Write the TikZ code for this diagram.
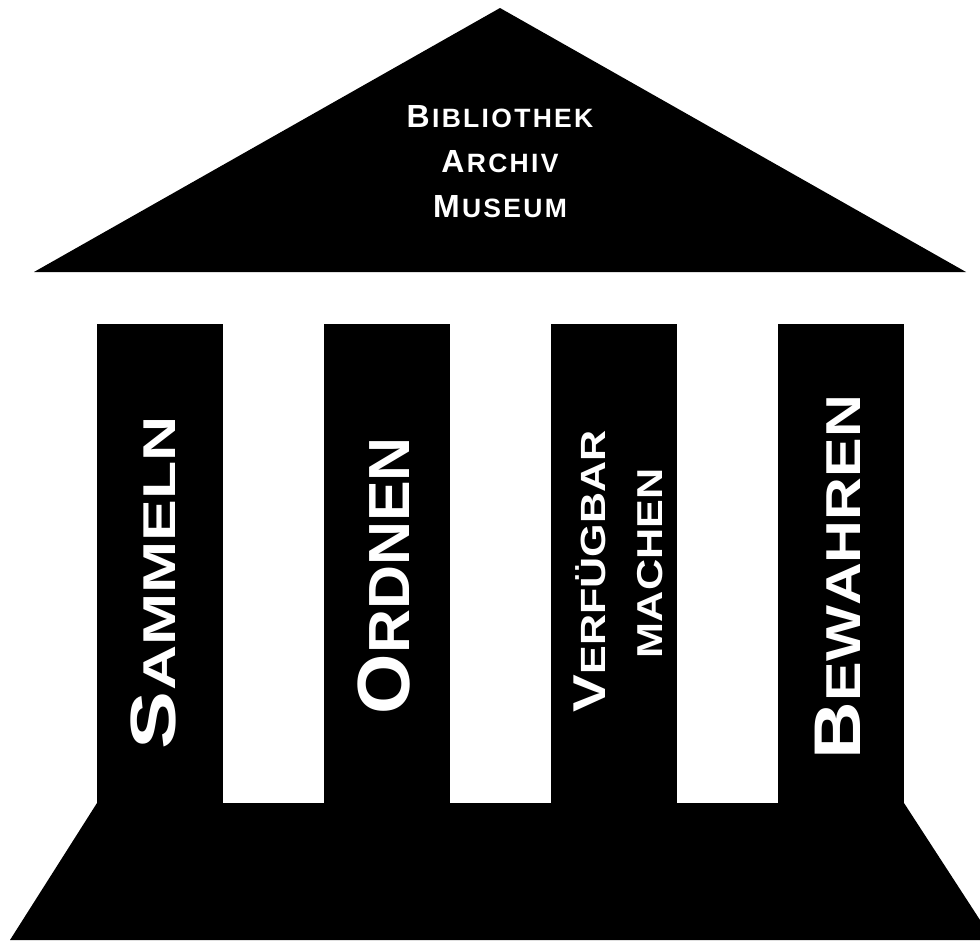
\documentclass[tikz,border=0pt]{standalone}
\usepackage{fontspec}
\usepackage{graphicx}
\setmainfont{Liberation Sans}
\newcommand\trk[2]{\def\trkgap{#1}\trkloop#2\relax}
\def\trkloop#1{\ifx#1\relax\else #1\expandafter\trkcont\fi}
\def\trkcont#1{\ifx#1\relax\else\kern\trkgap #1\expandafter\trkcont\fi}
% #1 big size, #2 small size, #3 first letter, #4 rest, #5 gap
\newcommand\pword[5]{{\fontsize{#1}{#1}\selectfont #3}\kern#5{\fontsize{#2}{#2}\selectfont\trk{#5}{#4}}}
\tikzset{
  lbl/.style={text=white, inner sep=0pt, outer sep=0pt, font=\bfseries},
  vlbl/.style={lbl, rotate=90, anchor=base west},
  hlbl/.style={lbl, anchor=base},
  blk/.style={fill=black}
}
\begin{document}
\begin{tikzpicture}[x=1pt,y=-1pt]
\useasboundingbox (0,0) rectangle (980,940);
\clip (0,0) rectangle (980,940);
% roof
\fill[blk] (500,8) -- (966,272) -- (34,272) -- cycle;
% pillars
\fill[blk] (97,324) rectangle (223,804);
\fill[blk] (324,324) rectangle (450,804);
\fill[blk] (551,324) rectangle (677,804);
\fill[blk] (778,324) rectangle (904,804);
% base
\fill[blk] (97,803) -- (904,803) -- (993,940) -- (10,940) -- cycle;
% roof text
\node[hlbl] (t1) at (500,127) {\pword{32}{26.5}{B}{IBLIOTHEK}{2.3pt}};
\node[hlbl] (t2) at (500,172.5) {\pword{32}{26.5}{A}{RCHIV}{2.3pt}};
\node[hlbl] (t3) at (500,217) {\pword{32}{26.5}{M}{USEUM}{2.3pt}};
% pillar text
\node[vlbl] (w1) at (175,749) {\scalebox{1.36}[1]{\pword{64}{46}{S}{AMMELN}{0pt}}};
\node[vlbl] (w2) at (409,714) {\scalebox{1.05}[1]{\pword{74}{58}{O}{RDNEN}{0pt}}};
\node[vlbl] (w3) at (605,712) {\scalebox{1.23}[1]{\pword{46}{35}{V}{ERFÜGBAR}{0pt}}};
\node[vlbl] (w4) at (662,658) {\scalebox{1.2}[1]{\fontsize{36}{36}\selectfont MACHEN}};
\node[vlbl] (w5) at (860,759) {\scalebox{1.21}[1]{\pword{66}{49}{B}{EWAHREN}{0pt}}};
\end{tikzpicture}
\end{document}
